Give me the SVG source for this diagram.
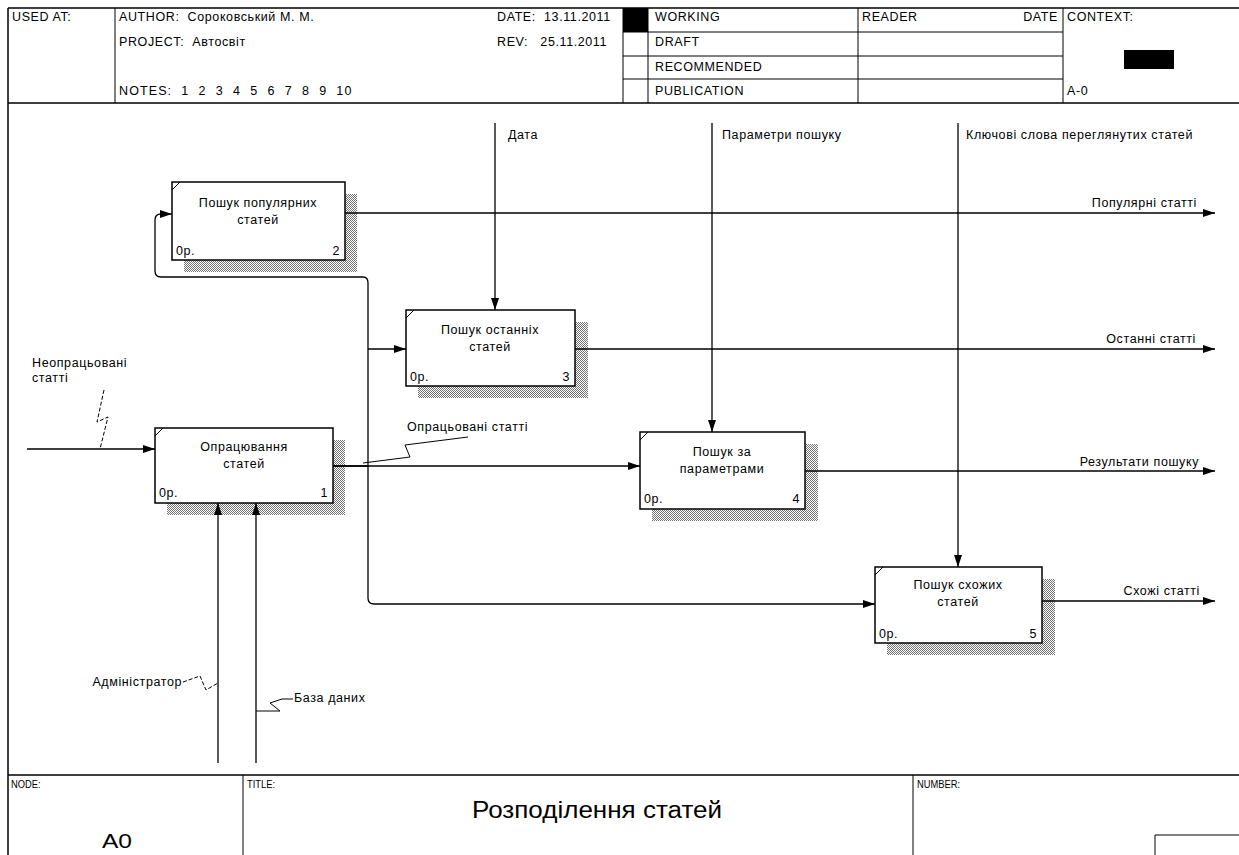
<svg xmlns="http://www.w3.org/2000/svg" width="1239" height="855" viewBox="0 0 1239 855">
<defs>
<pattern id="hatch" width="2" height="2" patternUnits="userSpaceOnUse">
<rect x="0" y="0" width="1" height="1" fill="#000"/>
<rect x="1" y="1" width="1" height="1" fill="#000"/>
</pattern>
<marker id="ah" viewBox="0 0 12 8" refX="12" refY="4" markerWidth="12" markerHeight="8" markerUnits="userSpaceOnUse" orient="auto">
<path d="M0,0 L12,4 L0,8 Z" fill="#000"/>
</marker>
<style>
text{font-family:"Liberation Sans",Arial,sans-serif;font-size:12.5px;letter-spacing:0.6px;fill:#000}
.fr{stroke:#000;stroke-width:1.5;fill:none}
.thin{stroke:#000;stroke-width:1;fill:none}
.box{fill:#fff;stroke:#000;stroke-width:1.5}
.sh{fill:url(#hatch);opacity:0.55}
.ar{stroke:#000;stroke-width:1.3;fill:none}
.arm{stroke:#000;stroke-width:1.3;fill:none;marker-end:url(#ah)}
.sq{stroke:#000;stroke-width:1;fill:none}
.sqd{stroke:#000;stroke-width:1;fill:none;stroke-dasharray:4,2}
.mid{text-anchor:middle}
.end{text-anchor:end}
.sm{font-size:11px;letter-spacing:0}
</style>
</defs>
<rect width="1239" height="855" fill="#fff"/>
<g id="frame">
<path class="fr" d="M8,8 H1239 M8,103 H1239 M8,8 V855 M8,775 H1239"/>
<path class="thin" d="M115,8 V103 M623,8 V103 M648,8 V103 M858,8 V103 M1063,8 V103 M623,32 H1063 M623,56 H1063 M623,79 H1063"/>
<rect x="623" y="8" width="25" height="24" fill="#000"/>
<rect x="1124" y="50" width="50" height="19" fill="#000"/>
<text x="12" y="21">USED AT:</text>
<text x="119" y="21" xml:space="preserve">AUTHOR:  Сороковський М. М.</text>
<text x="119" y="46" xml:space="preserve">PROJECT:  Автосвіт</text>
<text x="119" y="95" xml:space="preserve" textLength="233" lengthAdjust="spacing">NOTES:  1  2  3  4  5  6  7  8  9  10</text>
<text x="497" y="21" xml:space="preserve">DATE:  13.11.2011</text>
<text x="497" y="46" xml:space="preserve">REV:   25.11.2011</text>
<text x="655" y="21">WORKING</text>
<text x="655" y="46">DRAFT</text>
<text x="655" y="71">RECOMMENDED</text>
<text x="655" y="95">PUBLICATION</text>
<text x="862" y="21">READER</text>
<text x="1058" y="21" class="end">DATE</text>
<text x="1067" y="21">CONTEXT:</text>
<text x="1067" y="95">A-0</text>
<path class="thin" d="M243,775 V855 M913,775 V855 M1155,855 V835 H1239"/>
<text x="11" y="788" class="sm" transform="translate(11,0) scale(0.85,1) translate(-11,0)">NODE:</text>
<text x="247" y="788" class="sm" transform="translate(247,0) scale(0.85,1) translate(-247,0)">TITLE:</text>
<text x="917" y="788" class="sm" transform="translate(917,0) scale(0.85,1) translate(-917,0)">NUMBER:</text>
<text x="102" y="848" style="font-size:20px;letter-spacing:0" textLength="30" lengthAdjust="spacingAndGlyphs">A0</text>
<text x="472" y="818" style="font-size:23px;letter-spacing:0" textLength="250" lengthAdjust="spacingAndGlyphs">Розподілення статей</text>
</g>
<g id="connectors">
<path class="arm" d="M27,449 H155"/>
<path class="sqd" d="M104,390 L97,422 L108,417 L100,449"/>
<text x="32" y="367">Неопрацьовані</text>
<text x="32" y="382">статті</text>
<path class="ar" d="M333,466 H368"/>
<path class="arm" d="M333,466 H640"/>
<path class="ar" d="M363,277 Q368,277 368,283 V598 Q368,604 374,604"/>
<path class="arm" d="M374,604 H875"/>
<path class="ar" d="M363,277 H161 Q155,277 155,271 V220 Q155,214 161,214"/>
<path class="arm" d="M161,214 H172"/>
<path class="arm" d="M368,349 H406"/>
<path class="sq" d="M468,437 L405,445 L410,457 L363,463"/>
<text x="407" y="431">Опрацьовані статті</text>
<path class="arm" d="M345,213 H1215"/>
<text x="1197" y="207" class="end">Популярні статті</text>
<path class="arm" d="M575,349 H1215"/>
<text x="1196" y="343" class="end">Останні статті</text>
<path class="arm" d="M805,471 H1215"/>
<text x="1199" y="466" class="end">Результати пошуку</text>
<path class="arm" d="M1042,601 H1215"/>
<text x="1200" y="595" class="end">Схожі статті</text>
<path class="arm" d="M495,123 V310"/>
<text x="508" y="139">Дата</text>
<path class="arm" d="M712,123 V432"/>
<text x="722" y="139">Параметри пошуку</text>
<path class="arm" d="M958,123 V567"/>
<text x="966" y="139">Ключові слова переглянутих статей</text>
<path class="arm" d="M218,763 V503"/>
<path class="arm" d="M256,763 V503"/>
<path class="sqd" d="M183,682 L200,676 L206,690 L218,683"/>
<text x="182" y="686" class="end">Адміністратор</text>
<path class="sq" d="M293,699 L282,699 L270,703 L280,711 L256,711"/>
<text x="294" y="702">База даних</text>
</g>
<g id="node2">
<path class="sh" d="M345,194 H357 V272 H184 V260 H345 Z"/>
<rect class="box" x="172" y="182" width="173" height="78"/>
<path class="thin" d="M172,190 L180,182"/>
<text x="258" y="207" class="mid">Пошук популярних</text>
<text x="258" y="224" class="mid">статей</text>
<text x="176" y="255">0р.</text>
<text x="340" y="255" class="end">2</text>
</g>
<g id="node3">
<path class="sh" d="M575,322 H588 V398 H418 V386 H575 Z"/>
<rect class="box" x="406" y="310" width="169" height="76"/>
<path class="thin" d="M406,318 L414,310"/>
<text x="490" y="334" class="mid">Пошук останніх</text>
<text x="490" y="351" class="mid">статей</text>
<text x="410" y="381">0р.</text>
<text x="570" y="381" class="end">3</text>
</g>
<g id="node1">
<path class="sh" d="M333,440 H345 V515 H167 V503 H333 Z"/>
<rect class="box" x="155" y="428" width="178" height="75"/>
<path class="thin" d="M155,436 L163,428"/>
<text x="244" y="451" class="mid">Опрацювання</text>
<text x="244" y="468" class="mid">статей</text>
<text x="159" y="497">0р.</text>
<text x="328" y="497" class="end">1</text>
</g>
<g id="node4">
<path class="sh" d="M805,444 H818 V521 H652 V509 H805 Z"/>
<rect class="box" x="640" y="432" width="165" height="77"/>
<path class="thin" d="M640,440 L648,432"/>
<text x="722" y="456" class="mid">Пошук за</text>
<text x="722" y="473" class="mid">параметрами</text>
<text x="644" y="503">0р.</text>
<text x="800" y="503" class="end">4</text>
</g>
<g id="node5">
<path class="sh" d="M1042,579 H1055 V655 H887 V643 H1042 Z"/>
<rect class="box" x="875" y="567" width="167" height="76"/>
<path class="thin" d="M875,575 L883,567"/>
<text x="958" y="589" class="mid">Пошук схожих</text>
<text x="958" y="606" class="mid">статей</text>
<text x="879" y="638">0р.</text>
<text x="1037" y="638" class="end">5</text>
</g>
</svg>
